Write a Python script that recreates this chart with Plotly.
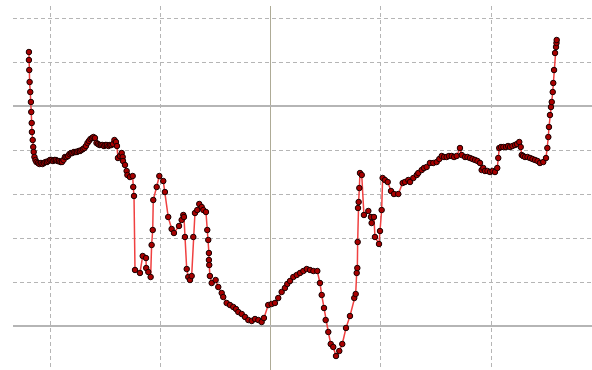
import plotly.graph_objects as go

# Profile samples (horizontal position, level) in grid units
x_vals = [
    -2.200, -2.200, -2.197, -2.194, -2.188, -2.182, -2.179, -2.175, -2.173, -2.166,
    -2.161, -2.157, -2.150, -2.141, -2.132, -2.118, -2.105, -2.091, -2.077, -2.064,
    -2.050, -2.036, -2.023, -2.009, -1.995, -1.982, -1.968, -1.955, -1.941, -1.927,
    -1.914, -1.900, -1.886, -1.873, -1.859, -1.845, -1.832, -1.818, -1.805, -1.791,
    -1.777, -1.764, -1.750, -1.736, -1.723, -1.709, -1.695, -1.682, -1.668, -1.655,
    -1.641, -1.627, -1.614, -1.600, -1.586, -1.573, -1.559, -1.545, -1.532, -1.518,
    -1.505, -1.491, -1.477, -1.464, -1.450, -1.436, -1.423, -1.409, -1.400, -1.391,
    -1.373, -1.357, -1.348, -1.345, -1.327, -1.312, -1.305, -1.282, -1.257, -1.252,
    -1.245, -1.236, -1.191, -1.166, -1.136, -1.134, -1.115, -1.094, -1.085, -1.075,
    -1.070, -1.039, -1.015, -0.979, -0.964, -0.934, -0.903, -0.882, -0.836, -0.812,
    -0.797, -0.791, -0.782, -0.766, -0.752, -0.736, -0.721, -0.706, -0.691, -0.670,
    -0.652, -0.630, -0.615, -0.591, -0.579, -0.570, -0.564, -0.564, -0.561, -0.555,
    -0.539, -0.503, -0.479, -0.448, -0.434, -0.403, -0.373, -0.343, -0.318, -0.297,
    -0.266, -0.236, -0.206, -0.175, -0.145, -0.115, -0.085, -0.064, -0.025, 0.006,
    0.036, 0.066, 0.097, 0.127, 0.148, 0.173, 0.203, 0.234, 0.264, 0.294,
    0.325, 0.355, 0.385, 0.421, 0.445, 0.461, 0.482, 0.497, 0.521, 0.543,
    0.566, 0.591, 0.621, 0.648, 0.682, 0.718, 0.757, 0.770, 0.779, 0.785,
    0.788, 0.791, 0.797, 0.803, 0.809, 0.825, 0.845, 0.885, 0.909, 0.915,
    0.936, 0.945, 0.982, 0.991, 1.006, 1.015, 1.036, 1.061, 1.091, 1.118,
    1.157, 1.197, 1.218, 1.248, 1.264, 1.294, 1.325, 1.339, 1.370, 1.391,
    1.415, 1.445, 1.475, 1.506, 1.530, 1.552, 1.573, 1.597, 1.618, 1.643,
    1.664, 1.688, 1.718, 1.734, 1.764, 1.786, 1.809, 1.832, 1.855, 1.877,
    1.900, 1.915, 1.930, 1.945, 1.968, 1.991, 2.014, 2.036, 2.057, 2.066,
    2.075, 2.091, 2.112, 2.136, 2.155, 2.173, 2.195, 2.218, 2.236, 2.257,
    2.270, 2.279, 2.291, 2.309, 2.332, 2.355, 2.377, 2.400, 2.423, 2.445,
    2.475, 2.500, 2.512, 2.521, 2.527, 2.536, 2.545, 2.552, 2.561, 2.566,
    2.573, 2.582, 2.591, 2.595, 2.597,
]

y_vals = [
    6.227, 6.045, 5.818, 5.545, 5.318, 5.091, 4.864, 4.614, 4.409, 4.227,
    4.068, 3.955, 3.841, 3.773, 3.727, 3.705, 3.682, 3.705, 3.682, 3.705,
    3.727, 3.727, 3.750, 3.773, 3.773, 3.750, 3.773, 3.773, 3.750, 3.750,
    3.727, 3.727, 3.773, 3.841, 3.841, 3.864, 3.909, 3.932, 3.932, 3.955,
    3.955, 3.955, 3.977, 3.977, 4.000, 4.023, 4.045, 4.091, 4.159, 4.205,
    4.250, 4.273, 4.295, 4.273, 4.159, 4.136, 4.114, 4.114, 4.114, 4.091,
    4.114, 4.114, 4.091, 4.114, 4.114, 4.136, 4.227, 4.182, 4.091, 3.818,
    3.864, 3.932, 3.841, 3.750, 3.659, 3.523, 3.432, 3.386, 3.409, 3.159,
    2.955, 1.273, 1.205, 1.591, 1.545, 1.318, 1.227, 1.114, 1.841, 2.182,
    2.864, 3.159, 3.409, 3.295, 3.045, 2.477, 2.205, 2.114, 2.273, 2.409,
    2.523, 2.477, 2.023, 1.295, 1.114, 1.045, 1.136, 2.023, 2.568, 2.636,
    2.773, 2.705, 2.636, 2.591, 2.182, 1.955, 1.659, 1.500, 1.386, 1.136,
    0.977, 1.045, 0.886, 0.750, 0.659, 0.523, 0.477, 0.432, 0.386, 0.318,
    0.273, 0.205, 0.136, 0.114, 0.159, 0.136, 0.091, 0.182, 0.477, 0.500,
    0.523, 0.636, 0.773, 0.864, 0.955, 1.023, 1.114, 1.159, 1.205, 1.250,
    1.295, 1.273, 1.250, 1.250, 0.977, 0.705, 0.409, 0.136, -0.136, -0.409,
    -0.477, -0.682, -0.568, -0.409, -0.045, 0.227, 0.636, 0.727, 1.205, 1.318,
    1.909, 2.682, 2.818, 3.136, 3.477, 3.432, 2.523, 2.614, 2.477, 2.341,
    2.477, 2.023, 1.864, 2.159, 2.636, 3.364, 3.318, 3.273, 3.068, 3.000,
    3.000, 3.250, 3.273, 3.318, 3.273, 3.364, 3.432, 3.477, 3.545, 3.591,
    3.614, 3.705, 3.705, 3.727, 3.795, 3.864, 3.841, 3.841, 3.864, 3.864,
    3.841, 3.864, 4.045, 3.886, 3.841, 3.841, 3.818, 3.795, 3.773, 3.750,
    3.705, 3.545, 3.591, 3.523, 3.523, 3.500, 3.523, 3.500, 3.591, 3.818,
    4.045, 4.068, 4.068, 4.068, 4.091, 4.068, 4.091, 4.114, 4.136, 4.182,
    4.068, 3.886, 3.864, 3.841, 3.841, 3.818, 3.795, 3.773, 3.750, 3.705,
    3.727, 3.818, 4.045, 4.295, 4.523, 4.795, 4.977, 5.091, 5.318, 5.523,
    5.818, 6.205, 6.341, 6.432, 6.500,
]

fig = go.Figure()
fig.add_trace(go.Scatter(
    x=x_vals,
    y=y_vals,
    mode="lines+markers",
    line=dict(color="#f04040", width=1.5),
    marker=dict(size=5.5, color="#a80000", line=dict(color="#1a0000", width=1)),
    hoverinfo="skip",
))

axis_common = dict(
    showticklabels=False,
    ticks="",
    zeroline=False,
    showline=False,
    tick0=0,
    dtick=5,
    showgrid=True,
)

fig.update_xaxes(
    **axis_common,
    range=[-2.345, 2.918],
    gridcolor="#aeab96",
    gridwidth=1.2,
    minor=dict(dtick=1, tick0=0, showgrid=True, gridcolor="#b5b5b5",
               griddash="4px,3px", gridwidth=1.2),
)
fig.update_yaxes(
    **axis_common,
    range=[-1.0, 7.273],
    gridcolor="#b5b5b5",
    gridwidth=1.5,
    minor=dict(dtick=1, tick0=0, showgrid=True, gridcolor="#b5b5b5",
               griddash="4px,3px", gridwidth=1.2),
)

fig.update_layout(
    width=592,
    height=370,
    margin=dict(l=13, r=0, t=6, b=0),
    paper_bgcolor="white",
    plot_bgcolor="white",
    showlegend=False,
)

fig.write_html("out.html")
